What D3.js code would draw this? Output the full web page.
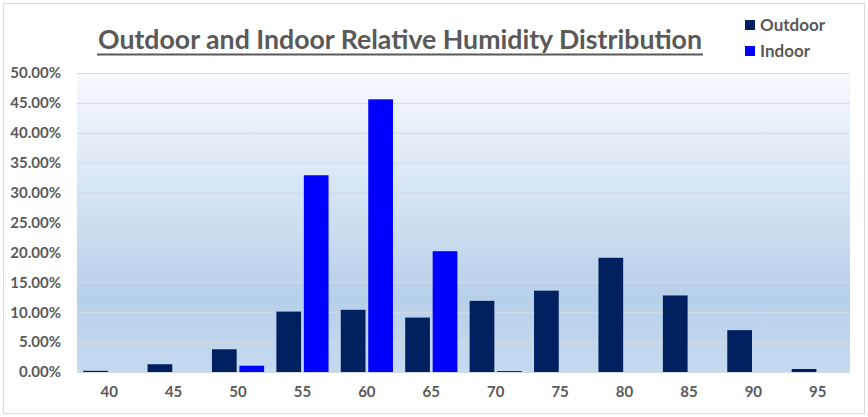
<!DOCTYPE html>
<html>
<head>
<meta charset="utf-8">
<script src="https://cdn.jsdelivr.net/npm/d3@7"></script>
<style>
  body { margin: 0; background: #fff; }
</style>
</head>
<body>
<svg width="868" height="417"></svg>
<script>
var svg = d3.select("svg"),
  width = +svg.attr("width"),
  height = +svg.attr("height");

// data (percent of hours)
var humidity_bins = ["40", "45", "50", "55", "60", "65", "70", "75", "80", "85", "90", "95"];
var outdoor_values = [0.2, 1.3, 3.8, 10.1, 10.4, 9.1, 11.9, 13.6, 19.1, 12.8, 7.0, 0.5];
var indoor_values = [0, 0, 1.05, 32.9, 45.6, 20.2, 0.15, 0, 0, 0, 0, 0];
var series_names = ["Outdoor", "Indoor"];
var y_ticks = [0, 5, 10, 15, 20, 25, 30, 35, 40, 45, 50];

var colors = { Outdoor: "#002060", Indoor: "#0000ff" };
var textColor = "#595959";
var font = "Lato, 'Liberation Sans', Arial, sans-serif";

var rows = humidity_bins.map(function (b, i) {
  return { bin: b, Outdoor: outdoor_values[i], Indoor: indoor_values[i] };
});

const plotLeft = 77, plotRight = 850, plotTop = 73, plotBottom = 372;

const x0 = d3
  .scaleBand()
  .domain(humidity_bins)
  .range([plotLeft, plotRight])
  .paddingInner(0.19)
  .paddingOuter(0.095);
const x1 = d3
  .scaleBand()
  .domain(series_names)
  .range([0, x0.bandwidth()])
  .paddingInner(0.1);
const yScale = d3.scaleLinear().domain([0, 50]).range([plotBottom, plotTop]);

// outer chart border
svg
  .append("rect")
  .attr("x", 3.5)
  .attr("y", 3.5)
  .attr("width", width - 7)
  .attr("height", height - 7)
  .attr("fill", "#fff")
  .attr("stroke", "#d9d9d9");

// plot background gradient
var defs = svg.append("defs");
var grad = defs
  .append("linearGradient")
  .attr("id", "bg")
  .attr("x1", 0).attr("y1", 0).attr("x2", 0).attr("y2", 1);
grad.append("stop").attr("offset", "0%").attr("stop-color", "#f6f9fd");
grad.append("stop").attr("offset", "35%").attr("stop-color", "#dbe7f4");
grad.append("stop").attr("offset", "75%").attr("stop-color", "#b7d0ea");
grad.append("stop").attr("offset", "100%").attr("stop-color", "#c5daef");

svg
  .append("rect")
  .attr("x", plotLeft)
  .attr("y", plotTop)
  .attr("width", plotRight - plotLeft)
  .attr("height", plotBottom - plotTop)
  .attr("fill", "url(#bg)");

// gridlines
svg
  .append("g")
  .attr("transform", "translate(" + plotLeft + ",0)")
  .call(
    d3.axisLeft(yScale)
      .tickValues(y_ticks)
      .tickSize(-(plotRight - plotLeft))
      .tickFormat("")
  )
  .call(function (g) {
    g.select(".domain").remove();
    g.selectAll("line").attr("stroke", "#d3dbe3").attr("stroke-width", 1);
  });

// y axis labels
svg
  .append("g")
  .attr("transform", "translate(" + plotLeft + ",0)")
  .call(
    d3.axisLeft(yScale)
      .tickValues(y_ticks)
      .tickSize(0)
      .tickPadding(16)
      .tickFormat(function (d) { return d.toFixed(2) + "%"; })
  )
  .call(function (g) {
    g.select(".domain").remove();
    g.selectAll("text")
      .attr("fill", textColor)
      .attr("font-family", font)
      .attr("font-weight", "bold")
      .attr("font-size", 15);
  });

// x axis labels
svg
  .append("g")
  .attr("transform", "translate(0," + plotBottom + ")")
  .call(d3.axisBottom(x0).tickSize(0).tickPadding(14))
  .call(function (g) {
    g.select(".domain").remove();
    g.selectAll("text")
      .attr("fill", textColor)
      .attr("font-family", font)
      .attr("font-weight", "bold")
      .attr("font-size", 15);
  });

// bars
svg
  .append("g")
  .selectAll("g")
  .data(rows)
  .enter()
  .append("g")
  .attr("transform", function (d) {
    return "translate(" + x0(d.bin) + ",0)";
  })
  .selectAll("rect")
  .data(function (d) {
    return series_names.map(function (s) {
      return { key: s, value: d[s] };
    });
  })
  .enter()
  .append("rect")
  .attr("x", function (d) { return x1(d.key); })
  .attr("y", function (d) { return yScale(d.value); })
  .attr("width", x1.bandwidth())
  .attr("height", function (d) { return plotBottom - yScale(d.value); })
  .attr("fill", function (d) { return colors[d.key]; });

// title
svg
  .append("text")
  .attr("x", 400)
  .attr("y", 49)
  .attr("text-anchor", "middle")
  .attr("font-family", font)
  .attr("font-weight", "bold")
  .attr("font-size", 27)
  .attr("fill", textColor)
  .attr("textLength", 604)
  .attr("lengthAdjust", "spacingAndGlyphs")
  .text("Outdoor and Indoor Relative Humidity Distribution");
svg
  .append("line")
  .attr("x1", 97)
  .attr("x2", 703)
  .attr("y1", 54.5)
  .attr("y2", 54.5)
  .attr("stroke", textColor)
  .attr("stroke-width", 2);

// legend
var legend = svg
  .append("g")
  .selectAll("g")
  .data(series_names)
  .enter()
  .append("g")
  .attr("transform", function (d, i) {
    return "translate(745," + (20 + i * 26) + ")";
  });
legend
  .append("rect")
  .attr("width", 10)
  .attr("height", 10)
  .attr("fill", function (d) { return colors[d]; });
legend
  .append("text")
  .attr("x", 15)
  .attr("y", 5)
  .attr("dy", "0.35em")
  .attr("font-family", font)
  .attr("font-weight", "bold")
  .attr("font-size", 17)
  .attr("fill", textColor)
  .text(function (d) { return d; });
</script>
</body>
</html>
